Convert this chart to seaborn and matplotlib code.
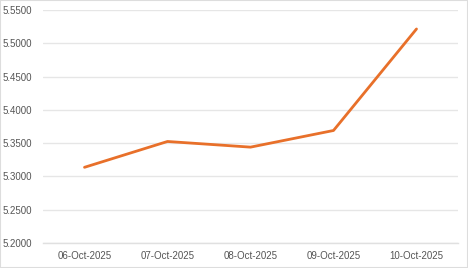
import matplotlib
matplotlib.use("Agg")
import matplotlib.pyplot as plt
import seaborn as sns
import pandas as pd
from matplotlib.ticker import FixedLocator, FormatStrFormatter

dates = ["06-Oct-2025", "07-Oct-2025", "08-Oct-2025", "09-Oct-2025", "10-Oct-2025"]
values = [5.3137, 5.3525, 5.3440, 5.3690, 5.5215]
yticks = [5.20, 5.25, 5.30, 5.35, 5.40, 5.45, 5.50, 5.55]

df = pd.DataFrame({"date": dates, "value": values})

sns.set_style("white")
plt.rcParams["font.family"] = ["Liberation Sans", "DejaVu Sans"]

fig = plt.figure(figsize=(4.68, 2.68), dpi=100)
ax = fig.add_axes([43/468, 1 - 243/268, (458-43)/468, (243-10)/268])

sns.lineplot(data=df, x="date", y="value", ax=ax, color="#E8702A", linewidth=2.0, sort=False)

ax.set_xlim(-0.5, len(dates) - 0.5)
ax.set_ylim(yticks[0], yticks[-1])
ax.set_yticks(yticks)
ax.yaxis.set_major_formatter(FormatStrFormatter("%.4f"))
ax.set_xticks(range(len(dates)))
ax.set_xticklabels(dates)
ax.xaxis.set_minor_locator(FixedLocator([i - 0.5 for i in range(len(dates) + 1)]))
ax.tick_params(axis="x", which="major", length=0, pad=6, labelsize=7, labelcolor="#555555")
ax.tick_params(axis="x", which="minor", length=4, width=0.8, color="#dddddd", direction="out")
ax.tick_params(axis="y", length=0, pad=8, labelsize=7, labelcolor="#555555")
ax.grid(axis="y", color="#e6e6e6", linewidth=1)
ax.set_xlabel("")
ax.set_ylabel("")
for s in ["top", "right", "left"]:
    ax.spines[s].set_visible(False)
ax.spines["bottom"].set_color("#e0e0e0")
ax.spines["bottom"].set_linewidth(1)

fig.patches.append(plt.Rectangle((0, 0), 1, 1, transform=fig.transFigure, fill=False,
                                 edgecolor="#dddddd", linewidth=1.5))

fig.savefig("out.png", dpi=100)
